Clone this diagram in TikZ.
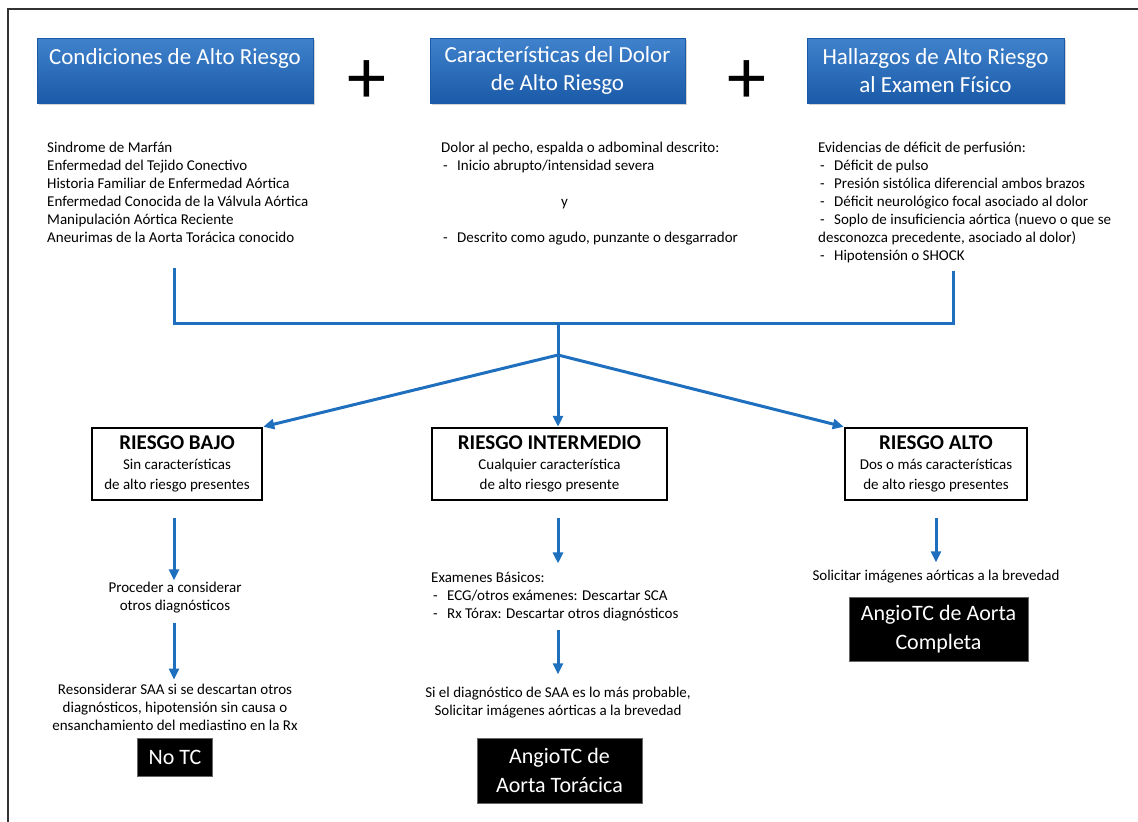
\documentclass[tikz,border=0pt]{standalone}
\usepackage{fontspec}
\setmainfont{Carlito}
\usetikzlibrary{arrows.meta,shadows}
\definecolor{azul}{RGB}{31,111,191}
\definecolor{azulclaro}{RGB}{64,130,204}
\definecolor{azuloscuro}{RGB}{26,90,168}
\newcommand\guion{\makebox[16pt][l]{\hspace{2pt}-}}

\begin{document}
\begin{tikzpicture}[x=1pt,y=-1pt,
  cabecera/.style={rectangle,top color=azulclaro,bottom color=azuloscuro,draw=azuloscuro,text=white,
    font=\fontsize{23}{28}\selectfont,align=center,inner sep=0pt,minimum height=65pt,
    drop shadow={shadow xshift=1.5pt,shadow yshift=-2pt,opacity=.35}},
  lista/.style={anchor=base west,align=left,inner sep=0pt,font=\fontsize{15}{18}\selectfont},
  texto/.style={align=center,inner sep=2pt,font=\fontsize{15}{18}\selectfont},
  riesgo/.style={draw,line width=2.5pt,minimum height=72pt,align=center,inner sep=0pt,font=\fontsize{15}{20}\selectfont},
  final/.style={fill=black,draw=black!60,line width=1pt,text=white,align=center,font=\fontsize{22}{29}\selectfont},
  link/.style={azul,line width=3pt},
  flecha/.style={link,-{Triangle[length=11pt,width=10pt]}},
  mas/.style={inner sep=0pt,font=\fontsize{78}{78}\selectfont}]
  \useasboundingbox (0,0) rectangle (1138,822);
  \draw[black!80,line width=2pt] (8,822) -- (8,9) -- (1138,9);

  % cabeceras
  \node[cabecera,minimum width=276pt] (cond) at (175,70.5) {Condiciones de Alto Riesgo\\ \mbox{}};
  \node[cabecera,minimum width=255pt] (dolor) at (557.5,70.5) {Características del Dolor\\ de Alto Riesgo};
  \node[cabecera,minimum width=257pt] (hall) at (935.5,70.5) {Hallazgos de Alto Riesgo\\ al Examen Físico};
  \node[mas] (mas1) at (367,82) {+};
  \node[mas] (mas2) at (747,82) {+};

  % listas (base = ultima linea)
  \node[lista] (condlista) at (47,242) {Sindrome de Marfán\\ Enfermedad del Tejido Conectivo\\
    Historia Familiar de Enfermedad Aórtica\\ Enfermedad Conocida de la Válvula Aórtica\\
    Manipulación Aórtica Reciente\\ Aneurimas de la Aorta Torácica conocido};
  \node[lista] (dolorlista) at (441,242) {Dolor al pecho, espalda o adbominal descrito:\\
    \guion Inicio abrupto/intensidad severa\\ \mbox{}\\ \hspace*{120pt}y\\ \mbox{}\\
    \guion Descrito como agudo, punzante o desgarrador};
  \node[lista] (hallista) at (818,260) {Evidencias de déficit de perfusión:\\
    \guion Déficit de pulso\\ \guion Presión sistólica diferencial ambos brazos\\
    \guion Déficit neurológico focal asociado al dolor\\
    \guion Soplo de insuficiencia aórtica (nuevo o que se\\
    desconozca precedente, asociado al dolor)\\ \guion Hipotensión o SHOCK};

  \coordinate (jL) at (174,323);
  \coordinate (jR) at (953,323);
  \coordinate (jM) at (558,323);
  \coordinate (split) at (558,355);
  \draw[link,shorten <=26pt,shorten >=8pt] (condlista.south -| jL) -- (jL) -- (jR) -- (hallista.south -| jR);
  \draw[link] (jM) -- (split);

  % niveles de riesgo
  \node[riesgo,minimum width=170pt] (bajo) at (177,464) {{\fontsize{21}{24}\selectfont\bfseries RIESGO BAJO}\\ Sin características\\ de alto riesgo presentes};
  \node[riesgo,minimum width=235pt] (inter) at (549.5,464) {{\fontsize{21}{24}\selectfont\bfseries RIESGO INTERMEDIO}\\ Cualquier característica\\ de alto riesgo presente};
  \node[riesgo,minimum width=182pt] (alto) at (936,464) {{\fontsize{21}{24}\selectfont\bfseries RIESGO ALTO}\\ Dos o más características\\ de alto riesgo presentes};
  \draw[flecha] (split) -- (bajo.north east);
  \draw[flecha] (split) -- (inter.north -| split);
  \draw[flecha] (split) -- (alto.north west);

  % riesgo bajo
  \node[texto] (proc) at (175,598) {Proceder a considerar\\ otros diagnósticos};
  \node[texto] (reson) at (175,707) {Resonsiderar SAA si se descartan otros\\ diagnósticos, hipotensión sin causa o\\ ensanchamiento del mediastino en la Rx};
  \node[final,minimum width=75pt,minimum height=38pt] (notc) at (175,757) {No TC};
  \draw[flecha,shorten <=17pt] (bajo.south -| jL) -- (proc.north -| jL);
  \draw[flecha,shorten <=7pt,shorten >=2pt] (proc.south -| jL) -- (reson.north -| jL);

  % riesgo intermedio
  \node[lista] (exam) at (431,618) {Examenes Básicos:\\ \guion ECG/otros exámenes: Descartar SCA\\ \guion Rx Tórax: Descartar otros diagnósticos};
  \node[texto] (prob) at (558,703) {Si el diagnóstico de SAA es lo más probable,\\ Solicitar imágenes aórticas a la brevedad};
  \node[final,minimum width=165pt,minimum height=65pt] (angiot) at (559.5,770.5) {AngioTC de\\ Aorta Torácica};
  \draw[flecha,shorten <=17pt,shorten >=8pt] (inter.south -| split) -- (exam.north -| split);
  \draw[flecha,shorten <=9pt,shorten >=11pt] (exam.south -| split) -- (prob.north -| split);

  % riesgo alto
  \node[texto] (solic) at (936,577) {Solicitar imágenes aórticas a la brevedad};
  \node[final,minimum width=179pt,minimum height=64pt] (angioc) at (938.5,629) {AngioTC de Aorta\\ Completa};
  \draw[flecha,shorten <=17pt,shorten >=6pt] (alto.south -| alto.center) -- (solic.north -| alto.center);
\end{tikzpicture}
\end{document}
